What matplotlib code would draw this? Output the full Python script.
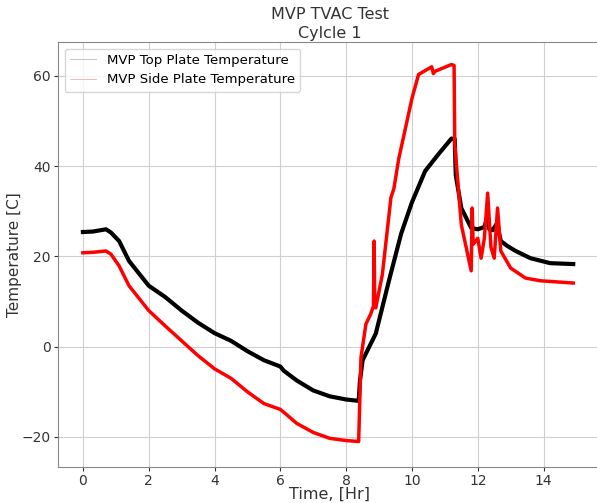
import matplotlib
matplotlib.use("Agg")
import matplotlib.pyplot as plt

# time [hr] and temperature [C]
top_t = [0.0, 0.3, 0.7, 0.85, 1.1, 1.4, 2.0, 2.5, 3.0, 3.5, 4.0, 4.5, 5.0, 5.5, 6.0, 6.1,
         6.5, 7.0, 7.5, 8.0, 8.38, 8.42, 8.5, 8.9, 9.3, 9.67, 10.0, 10.4, 10.8, 11.2, 11.3,
         11.33, 11.5, 11.8, 12.0, 12.2, 12.3, 12.35, 12.45, 12.6, 12.65, 12.7, 12.9, 13.15,
         13.6, 14.2, 14.9]
top_T = [25.4, 25.5, 26.0, 25.3, 23.4, 19.0, 13.5, 11.0, 8.0, 5.3, 3.0, 1.3, -1.0, -3.0, -4.4, -5.3,
         -7.5, -9.7, -11.0, -11.7, -12.0, -7.5, -3.0, 2.9, 14.6, 25.0, 32.0, 38.9, 42.6, 46.1, 46.0,
         38.0, 30.7, 26.3, 26.0, 26.5, 29.0, 26.0, 25.8, 27.5, 25.0, 23.4, 22.3, 21.2,
         19.6, 18.5, 18.3]

side_t = [0.0, 0.3, 0.7, 0.85, 1.1, 1.4, 2.0, 2.5, 3.0, 3.5, 4.0, 4.5, 5.0, 5.5, 6.0, 6.1,
          6.5, 7.0, 7.5, 8.0, 8.38, 8.45, 8.6, 8.75, 8.83, 8.85, 8.87, 8.9, 9.1, 9.36, 9.45,
          9.6, 9.76, 10.0, 10.2, 10.6, 10.65, 10.7, 11.2, 11.28, 11.3, 11.5, 11.8, 11.83, 11.86,
          12.0, 12.1, 12.2, 12.3, 12.4, 12.5, 12.6, 12.7, 13.0, 13.45, 13.9, 14.9]
side_T = [20.8, 20.9, 21.2, 20.5, 17.9, 13.5, 8.0, 4.6, 1.3, -2.0, -4.9, -7.0, -10.0, -12.6, -13.9, -14.5,
          -17.0, -19.0, -20.3, -20.8, -21.0, -2.4, 5.0, 7.3, 9.0, 23.4, 9.0, 8.6, 16.0, 33.0, 35.0,
          41.7, 47.0, 55.0, 60.3, 62.0, 60.5, 61.0, 62.5, 62.3, 45.0, 27.0, 16.8, 30.7, 22.7,
          24.0, 19.6, 24.0, 34.0, 22.0, 19.6, 30.7, 21.2, 17.4, 15.2, 14.6, 14.1]

fig = plt.figure(figsize=(5.97, 5.03), dpi=100)
# right edge of the axes runs slightly past the picture, as in the original crop
ax = fig.add_axes([0.097, 0.0716, 0.91, 0.845])

ax.plot(top_t, top_T, color='black', lw=3, label='MVP Top Plate Temperature')
ax.plot(side_t, side_T, color='red', lw=2.5, label='MVP Side Plate Temperature')

ax.set_xlim(-0.76, 15.75)
ax.set_ylim(-26.65, 67.5)
ax.set_xticks([0, 2, 4, 6, 8, 10, 12, 14])
ax.set_yticks([-20, 0, 20, 40, 60])
ax.grid(True, color='#d0d0d0', lw=0.8)
ax.set_axisbelow(True)
for s in ax.spines.values():
    s.set_color('#888888')
ax.tick_params(labelsize=10, colors='#333333', length=3, pad=2)

ax.set_title('MVP TVAC Test\nCylcle 1', fontsize=11.5, color='#333333', pad=3, linespacing=1.3)
ax.set_xlabel('Time, [Hr]', fontsize=11.5, color='#333333')
ax.set_ylabel('Temperature [C]', fontsize=11, color='#333333')
ax.xaxis.set_label_coords(0.5, -0.047)
ax.yaxis.set_label_coords(-0.066, 0.5)

leg = ax.legend(loc='upper left', fontsize=9.5, frameon=True, borderaxespad=0.5)
# thin, faint legend lines like the original
for ln, c in zip(leg.get_lines(), ['#bbbbbb', '#f0b0b0']):
    ln.set_linewidth(0.6)
    ln.set_color(c)

fig.savefig('out.png', dpi=100)
